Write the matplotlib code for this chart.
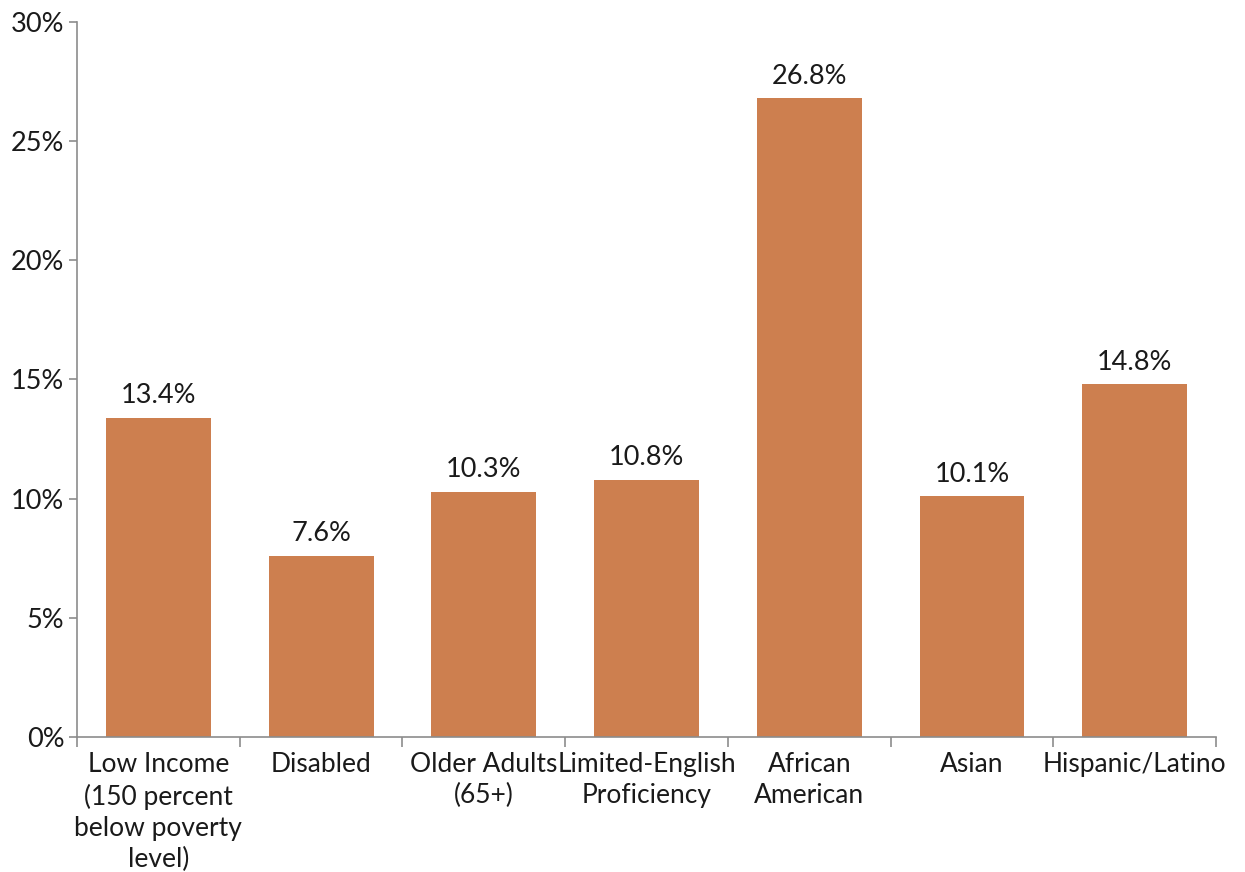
import matplotlib.pyplot as plt
import numpy as np
from matplotlib.ticker import FuncFormatter, FixedLocator

categories = ["Low Income\n(150 percent\nbelow poverty\nlevel)", "Disabled",
              "Older Adults\n(65+)", "Limited-English\nProficiency",
              "African\nAmerican", "Asian", "Hispanic/Latino"]
values = [13.4, 7.6, 10.3, 10.8, 26.8, 10.1, 14.8]
labels = ["13.4%", "7.6%", "10.3%", "10.8%", "26.8%", "10.1%", "14.8%"]

BAR_COLOR = "#CD7F4F"
AXIS_COLOR = "#8c8c8c"
TEXT_COLOR = "#1a1a1a"

plt.rcParams['font.family'] = ['Lato', 'DejaVu Sans']

fig = plt.figure(figsize=(12.45, 8.72), dpi=100)
ax = fig.add_axes([0.0618, 0.1548, 0.915, 0.82])

x = np.arange(len(categories))
bars = ax.bar(x, values, width=0.645, color=BAR_COLOR)

# value labels above each bar
for b, lab in zip(bars, labels):
    ax.text(b.get_x() + b.get_width() / 2, b.get_height() + 0.4, lab,
            ha='center', va='bottom', fontsize=19.5, color=TEXT_COLOR)

ax.set_xlim(-0.5, len(categories) - 0.5)
ax.set_ylim(0, 30)
ax.set_yticks(np.arange(0, 31, 5))
ax.yaxis.set_major_formatter(FuncFormatter(lambda v, p: "%d%%" % v))

ax.set_xticks(x)
ax.set_xticklabels(categories, fontsize=19, color=TEXT_COLOR, linespacing=1.3)
ax.tick_params(axis='x', which='major', length=0, pad=11)
# ticks sit between categories
ax.xaxis.set_minor_locator(FixedLocator(np.arange(-0.5, len(categories), 1)))
ax.tick_params(axis='x', which='minor', length=7, color=AXIS_COLOR, width=1.2)
ax.tick_params(axis='y', length=6, color=AXIS_COLOR, width=1.2, labelsize=19.5,
               labelcolor=TEXT_COLOR, pad=3)

for side in ['top', 'right']:
    ax.spines[side].set_visible(False)
for side in ['left', 'bottom']:
    ax.spines[side].set_color(AXIS_COLOR)
    ax.spines[side].set_linewidth(1.2)

fig.savefig("out.png", dpi=100)
